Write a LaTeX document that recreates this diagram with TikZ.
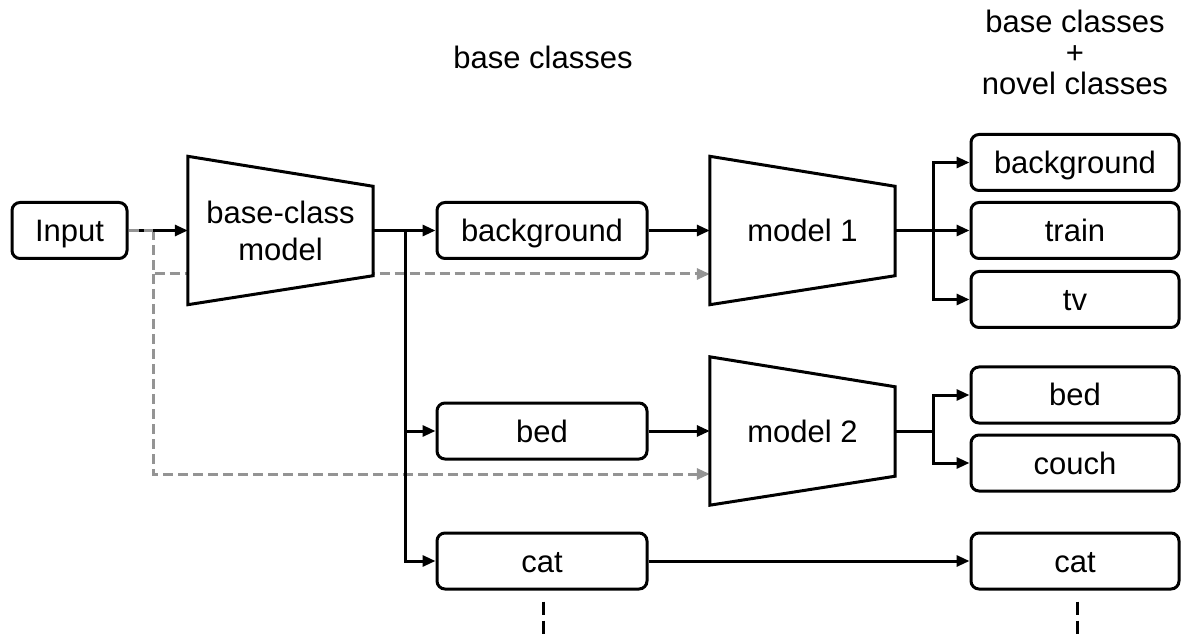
\documentclass[tikz,border=0pt]{standalone}
\usepackage{fontspec}
\setmainfont{Liberation Sans}
\usetikzlibrary{arrows.meta,calc}
\pgfdeclarelayer{bg}
\pgfdeclarelayer{mid}
\pgfsetlayers{bg,mid,main}
\begin{document}
\begin{tikzpicture}[x=1pt,y=-1pt,
  font=\fontsize{31}{37}\selectfont,
  box/.style={draw,line width=3pt,rounded corners=8pt,minimum height=56pt,inner sep=0pt,text height=23pt,text depth=1pt},
  inbox/.style={box,minimum width=115pt},
  cls/.style={box,minimum width=210pt},
  outbox/.style={box,minimum width=208pt},
  trap/.style={minimum width=185pt,minimum height=148pt,inner sep=0pt,align=center},
  trapshape/.style={line width=3pt,fill=white,line join=miter},
  arr/.style={line width=3pt,-{Triangle[length=13pt,width=11pt]}},
  ln/.style={line width=3pt},
  gdash/.style={line width=3pt,draw=black!42,dash pattern=on 10pt off 5pt},
  garr/.style={gdash,-{Triangle[length=13pt,width=11pt,fill=black!42]}},
  kdash/.style={line width=3pt,dash pattern=on 13pt off 6pt},
  title/.style={align=center,font=\fontsize{31}{31}\selectfont},
]
\useasboundingbox (0,0) rectangle (1200,636);

% titles
\node[title] (t1) at (543,57) {base classes};
\node[title] (t2) at (1075,52) {base classes\\+\\novel classes};

% nodes
\node[inbox] (in) at (69.5,230.5) {Input};
\node[trap] (bm) at (280.5,230.5) {base-class\\model};
\node[cls] (bgb) at (542,230.5) {background};
\node[cls] (bed) at (542,431) {bed};
\node[cls] (cat) at (542,561) {cat};
\node[trap] (m1) at (802.5,230.5) {model 1};
\node[trap] (m2) at (802.5,431) {model 2};
\node[outbox] (o1) at (1075,162.5) {background};
\node[outbox] (o2) at (1075,230.5) {train};
\node[outbox] (o3) at (1075,299.5) {tv};
\node[outbox] (o4) at (1075,395) {bed};
\node[outbox] (o5) at (1075,463) {couch};
\node[outbox] (o6) at (1075,561) {cat};

% trapezoid outlines
\begin{pgfonlayer}{mid}
\foreach \t in {bm,m1,m2}{
  \draw[trapshape] (\t.north west) -- ($(\t.north east)+(0,30)$) -- ($(\t.south east)+(0,-29)$) -- (\t.south west) -- cycle;
}
\end{pgfonlayer}

% coordinates
\coordinate (g1) at (153,230.5);
\coordinate (g2) at (153,274);
\coordinate (j1) at (405,230.5);
\coordinate (j2) at (933,230.5);
\coordinate (j3) at (933,431);
\coordinate (e1) at (543,636);
\coordinate (e2) at (1077,636);

% gray dashed skip connections
\begin{pgfonlayer}{bg}
\draw[garr] (g1) |- ($(m1.west)+(0,43.5)$);
\draw[garr] (g2) |- ($(m2.west)+(0,43)$);
\end{pgfonlayer}

% black connectors
\draw[arr] (in.east) -- (bm.west);
\draw[gdash] (in.east) -- (g1);
\draw[ln] (bm.east) -- (j1);
\draw[arr] (j1) -- (bgb.west);
\draw[arr] (j1) |- (bed.west);
\draw[arr] (j1) |- (cat.west);
\draw[arr] (bgb.east) -- (m1.west);
\draw[arr] (bed.east) -- (m2.west);
\draw[ln] (m1.east) -- (j2);
\draw[arr] (j2) |- (o1.west);
\draw[arr] (j2) -- (o2.west);
\draw[arr] (j2) |- (o3.west);
\draw[ln] (m2.east) -- (j3);
\draw[arr] (j3) |- (o4.west);
\draw[arr] (j3) |- (o5.west);
\draw[arr] (cat.east) -- (o6.west);
\draw[kdash] ($(cat.south)+(1,11)$) -- (e1);
\draw[kdash] ($(o6.south)+(2,11)$) -- (e2);
\end{tikzpicture}
\end{document}
